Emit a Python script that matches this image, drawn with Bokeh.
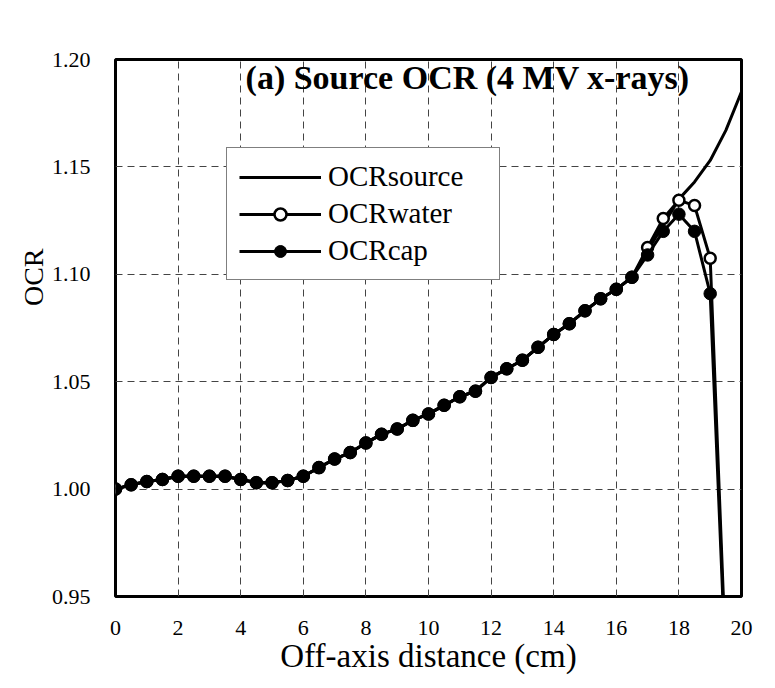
from bokeh.plotting import figure
from bokeh.models import (Range1d, FixedTicker, NumeralTickFormatter, Legend, LegendItem,
                          Label, Title, ColumnDataSource)
from bokeh.embed import file_html
from bokeh.resources import INLINE

# ---- data ----
x_cap = [0.0, 0.5, 1.0, 1.5, 2.0, 2.5, 3.0, 3.5, 4.0, 4.5, 5.0, 5.5, 6.0, 6.5, 7.0, 7.5,
         8.0, 8.5, 9.0, 9.5, 10.0, 10.5, 11.0, 11.5, 12.0, 12.5, 13.0, 13.5, 14.0, 14.5,
         15.0, 15.5, 16.0, 16.5, 17.0, 17.5, 18.0, 18.5, 19.0, 19.5]
ocr_cap = [1.000, 1.002, 1.0035, 1.0045, 1.006, 1.006, 1.006, 1.006, 1.0045, 1.003, 1.003,
           1.004, 1.006, 1.010, 1.014, 1.017, 1.0215, 1.0255, 1.028, 1.032, 1.035, 1.039,
           1.043, 1.0456, 1.052, 1.056, 1.060, 1.066, 1.072, 1.077, 1.083, 1.0886, 1.093,
           1.0986, 1.109, 1.120, 1.128, 1.120, 1.091, 0.915]

x_water = x_cap
ocr_water = [1.000, 1.002, 1.0035, 1.0045, 1.006, 1.006, 1.006, 1.006, 1.0045, 1.003, 1.003,
             1.004, 1.006, 1.010, 1.014, 1.017, 1.0215, 1.0255, 1.028, 1.032, 1.035, 1.039,
             1.043, 1.0456, 1.052, 1.056, 1.060, 1.066, 1.072, 1.077, 1.083, 1.0886, 1.093,
             1.0986, 1.1125, 1.126, 1.1345, 1.132, 1.1075, 0.920]

x_source = [0.0, 0.5, 1.0, 1.5, 2.0, 2.5, 3.0, 3.5, 4.0, 4.5, 5.0, 5.5, 6.0, 6.5, 7.0, 7.5,
            8.0, 8.5, 9.0, 9.5, 10.0, 10.5, 11.0, 11.5, 12.0, 12.5, 13.0, 13.5, 14.0, 14.5,
            15.0, 15.5, 16.0, 16.5, 17.0, 17.5, 18.0, 18.5, 19.0, 19.5, 20.0]
ocr_source = [1.000, 1.002, 1.0035, 1.0045, 1.006, 1.006, 1.006, 1.006, 1.0045, 1.003, 1.003,
              1.004, 1.006, 1.010, 1.014, 1.017, 1.0215, 1.0255, 1.028, 1.032, 1.035, 1.039,
              1.043, 1.0456, 1.052, 1.056, 1.060, 1.066, 1.072, 1.077, 1.083, 1.0886, 1.093,
              1.0986, 1.111, 1.123, 1.135, 1.143, 1.153, 1.167, 1.185]

x_ticks = [0, 2, 4, 6, 8, 10, 12, 14, 16, 18, 20]
y_ticks = [0.95, 1.00, 1.05, 1.10, 1.15, 1.20]

title_text = "(a) Source OCR (4 MV x-rays)"
x_label = "Off-axis distance (cm)"
y_label = "OCR"
labels = ["OCRsource", "OCRwater", "OCRcap"]

FONT = "Liberation Serif"

p = figure(width=775, height=688, output_backend="svg", toolbar_location=None,
           x_range=Range1d(0, 20), y_range=Range1d(0.95, 1.20),
           min_border_left=115, min_border_right=34, min_border_top=59, min_border_bottom=92)

p.background_fill_color = "white"
p.border_fill_color = "white"
p.outline_line_color = "black"
p.outline_line_width = 3

for ax in (p.xaxis[0], p.yaxis[0]):
    ax.axis_line_color = None
    ax.major_tick_line_color = None
    ax.minor_tick_line_color = None
    ax.major_label_text_font = FONT
    ax.major_label_text_font_size = "22px"
    ax.major_label_text_color = "black"
    ax.axis_label_text_font = FONT
    ax.axis_label_text_font_size = "33px"
    ax.axis_label_text_font_style = "normal"
    ax.axis_label_text_color = "black"

p.xaxis.ticker = FixedTicker(ticks=x_ticks)
p.yaxis.ticker = FixedTicker(ticks=y_ticks)
p.yaxis.formatter = NumeralTickFormatter(format="0.00")
p.xaxis.major_label_standoff = 18
p.yaxis.major_label_standoff = 19
p.xaxis.axis_label = x_label
p.xaxis.axis_label_standoff = 0

p.xgrid.ticker = FixedTicker(ticks=x_ticks)
p.ygrid.ticker = FixedTicker(ticks=y_ticks)
for g in (p.xgrid[0], p.ygrid[0]):
    g.grid_line_color = "#444444"
    g.grid_line_width = 1
    g.grid_line_dash = "7 5"

src_s = ColumnDataSource(dict(x=x_source, y=ocr_source))
src_w = ColumnDataSource(dict(x=x_water, y=ocr_water))
src_c = ColumnDataSource(dict(x=x_cap, y=ocr_cap))

l_s = p.line("x", "y", source=src_s, line_color="black", line_width=3)
l_w = p.line("x", "y", source=src_w, line_color="black", line_width=3)
m_w = p.scatter("x", "y", source=src_w, marker="circle", size=11, line_color="black",
                line_width=2.5, fill_color="white")
l_c = p.line("x", "y", source=src_c, line_color="black", line_width=3)
m_c = p.scatter("x", "y", source=src_c, marker="circle", size=12.5, line_color="black",
                fill_color="black")

legend = Legend(items=[LegendItem(label=labels[0], renderers=[l_s]),
                       LegendItem(label=labels[1], renderers=[l_w, m_w]),
                       LegendItem(label=labels[2], renderers=[l_c, m_c])],
                location=(111, 316))
legend.label_text_font = FONT
legend.label_text_font_size = "29px"
legend.label_text_color = "black"
legend.glyph_width = 82
legend.glyph_height = 30
legend.label_height = 30
legend.label_width = 159
legend.spacing = 4
legend.padding = 12
legend.margin = 0
legend.label_standoff = 7
legend.border_line_color = "black"
legend.border_line_width = 1.5
legend.background_fill_color = "white"
legend.background_fill_alpha = 1
p.add_layout(legend, "center")

p.add_layout(Label(x=11.25, y=1.1915, text=title_text, text_font=FONT, text_font_size="34px",
                   text_font_style="bold", text_align="center", text_baseline="middle",
                   text_color="black"))

# y-axis title, placed like the reference (above the frame centre)
p.add_layout(Title(text=y_label, align="right", offset=189, text_font=FONT,
                   text_font_size="28px", text_font_style="normal", text_color="black",
                   standoff=0), "left")

open("out.html", "w").write(file_html(p, INLINE))
